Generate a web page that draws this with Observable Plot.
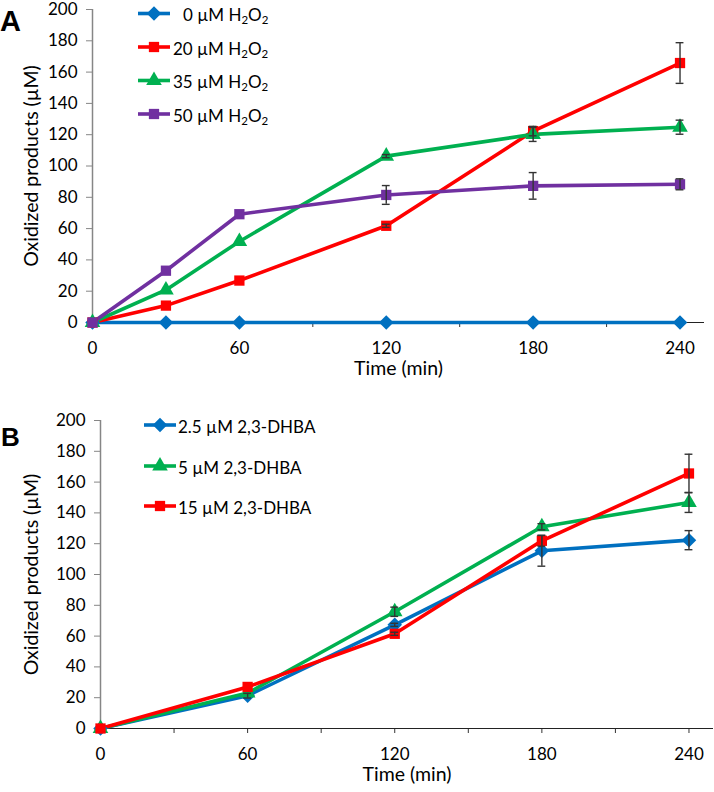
<!DOCTYPE html>
<html><head><meta charset="utf-8">
<script src="https://cdn.jsdelivr.net/npm/d3@7"></script>
<script src="https://cdn.jsdelivr.net/npm/@observablehq/plot@0.6"></script>
<style>
body{margin:0;background:#fff;}
#wrap{position:relative;width:714px;height:792px;font-family:Lato,"Open Sans",sans-serif;overflow:hidden;}
#wrap > svg{position:absolute;left:0;}
</style></head>
<body><div id="wrap"></div>
<script>
// ---------- Panel A data ----------
const timesA = [0, 30, 60, 120, 180, 240];
const seriesA = ["0 µM H2O2", "20 µM H2O2", "35 µM H2O2", "50 µM H2O2"];
const valuesA0 = [0, 0, 0, 0, 0, 0];
const errorsA0 = [0, 0, 0, 0, 0, 0];
const valuesA20 = [0, 10.8, 26.8, 61.8, 122.3, 165.8];
const errorsA20 = [0, 0, 0, 1, 3, 13];
const valuesA35 = [0, 20.8, 51.8, 106.3, 120.2, 124.8];
const errorsA35 = [0, 0, 0, 1, 4.5, 4.5];
const valuesA50 = [0, 33.1, 69.2, 81.5, 87.3, 88.3];
const errorsA50 = [0, 0, 0, 6, 8.5, 3.5];

// ---------- Panel B data ----------
const timesB = [0, 60, 120, 180, 240];
const seriesB = ["2.5 µM 2,3-DHBA", "5 µM 2,3-DHBA", "15 µM 2,3-DHBA"];
const valuesB25 = [0, 21.3, 67.3, 115.4, 122.3];
const errorsB25 = [0, 1.5, 1, 10, 6.2];
const valuesB5 = [0, 23, 75.8, 131, 146.8];
const errorsB5 = [0, 0, 3, 2, 6.5];
const valuesB15 = [0, 27, 61.5, 121.9, 165.6];
const errorsB15 = [0, 0, 1, 3.5, 12.5];

// ---------- axis ticks ----------
const yTicks = [0, 20, 40, 60, 80, 100, 120, 140, 160, 180, 200];
const xTicks = [0, 30, 60, 90, 120, 150, 180, 210, 240];
const xTickLabels = [0, 60, 120, 180, 240];
const yLabel = "Oxidized products (µM)";
const xLabel = "Time (min)";

const colorsA = ["#0070C0", "#FF0000", "#00B050", "#7030A0"];
const symbolsA = ["diamond", "square", "triangle", "square"];
const colorsB = ["#0070C0", "#00B050", "#FF0000"];
const symbolsB = ["diamond", "triangle", "square"];

// rotated-square diamond (Excel style)
const excelDiamond = {draw(ctx, size) { const h = Math.sqrt(size / 2); ctx.moveTo(0, -h); ctx.lineTo(h, 0); ctx.lineTo(0, h); ctx.lineTo(-h, 0); ctx.closePath(); }};
const symMap = {diamond: excelDiamond, square: d3.symbolSquare, triangle: d3.symbolTriangle};

function rows(times, series, vals, errs) {
  const out = [];
  series.forEach((s, i) => times.forEach((t, j) => out.push({s, t, v: vals[i][j], e: errs[i][j]})));
  return out;
}
const dataA = rows(timesA, seriesA, [valuesA0, valuesA20, valuesA35, valuesA50], [errorsA0, errorsA20, errorsA35, errorsA50]);
const dataB = rows(timesB, seriesB, [valuesB25, valuesB5, valuesB15], [errorsB25, errorsB5, errorsB15]);

const FONT = "Lato, 'Open Sans', sans-serif";
function panel(data, series, colors, symbols, o) {
  const errs = data.filter(d => d.e > 0);
  return Plot.plot({
    width: 714, height: o.height,
    marginLeft: o.ml, marginRight: o.mr, marginTop: o.mt, marginBottom: o.mb,
    x: {domain: [0, 250], axis: null},
    y: {domain: [0, 200], axis: null},
    color: {domain: series, range: colors},
    symbol: {domain: series, range: symbols.map(s => symMap[s])},
    style: {fontFamily: FONT, fontSize: "17px", color: "#000", background: "transparent", overflow: "visible"},
    marks: [
      Plot.axisY({ticks: yTicks, tickSize: 6, tickPadding: 9, stroke: "#868686", label: null, fontSize: 17}),
      Plot.ruleX([0], {stroke: "#868686", strokeWidth: 1.5}),
      Plot.axisX({ticks: xTicks, tickSize: 5, tickPadding: 14, stroke: "#333",
                  tickFormat: d => xTickLabels.includes(d) ? String(d) : "", label: null, fontSize: 17}),
      Plot.ruleY([0], {stroke: "#222", strokeWidth: 1.2}),
      Plot.line(data, {x: "t", y: "v", z: "s", stroke: "s", strokeWidth: 3.6}),
      Plot.dot(data, {x: "t", y: "v", fill: "s", symbol: "s", r: 5.8}),
      Plot.ruleX(errs, {x: "t", y1: d => d.v - d.e, y2: d => d.v + d.e, stroke: "#333", strokeWidth: 1.4}),
      Plot.ruleY(errs, {y: d => d.v + d.e, x1: d => d.t - 1.6, x2: d => d.t + 1.6, stroke: "#333", strokeWidth: 1.4}),
      Plot.ruleY(errs, {y: d => d.v - d.e, x1: d => d.t - 1.6, x2: d => d.t + 1.6, stroke: "#333", strokeWidth: 1.4}),
      Plot.text([yLabel], {frameAnchor: "left", dx: -o.ml + 31, rotate: -90, textAnchor: "middle", lineAnchor: "middle", fontSize: 19.5, fill: "#000"}),
      Plot.text([xLabel], {frameAnchor: "bottom", dy: 46, textAnchor: "middle", lineAnchor: "middle", fontSize: 19.5, fill: "#000"})
    ]
  });
}

const wrap = document.getElementById("wrap");
const A = panel(dataA, seriesA, colorsA, symbolsA, {height: 390, ml: 92, mr: 10, mt: 9, mb: 68});
A.style.top = "0px";
wrap.appendChild(A);
const B = panel(dataB, seriesB, colorsB, symbolsB, {height: 392, ml: 100, mr: 1, mt: 20, mb: 64});
B.style.top = "400px";
wrap.appendChild(B);

// ---------- overlay: panel letters and legends ----------
const ov = d3.select(wrap).append("svg").attr("width", 714).attr("height", 792)
  .style("top", "0px").style("pointer-events", "none")
  .attr("font-family", FONT);
ov.append("text").attr("x", 0).attr("y", 31).attr("font-size", 29).attr("font-weight", "bold")
  .attr("font-family", "'Liberation Sans', Arial, sans-serif").text("A");
ov.append("text").attr("x", 1).attr("y", 446).attr("font-size", 26).attr("font-weight", "bold")
  .attr("font-family", "'Liberation Sans', Arial, sans-serif").text("B");

function legendRow(x0, x1, yLine, tx, s, color, sym) {
  ov.append("line").attr("x1", x0).attr("x2", x1).attr("y1", yLine).attr("y2", yLine)
    .attr("stroke", color).attr("stroke-width", 3.6);
  ov.append("path").attr("transform", `translate(${(x0 + x1) / 2},${yLine})`)
    .attr("d", d3.symbol(symMap[sym], 5.8 * 5.8 * Math.PI)()).attr("fill", color);
  const t = ov.append("text").attr("x", tx).attr("y", yLine + 7.5).attr("font-size", 17);
  const m = s.match(/^(.*)H2O2$/);
  if (m) {
    t.append("tspan").text(m[1] + "H");
    t.append("tspan").attr("font-size", 11.5).attr("dy", 3).text("2");
    t.append("tspan").attr("dy", -3).text("O");
    t.append("tspan").attr("font-size", 11.5).attr("dy", 3).text("2");
  } else t.text(s);
}
const legYA = [13.5, 47, 80.5, 114];
seriesA.forEach((s, i) => legendRow(138, 170, legYA[i], i === 0 ? 183 : 173, s, colorsA[i], symbolsA[i]));
const legYB = [425, 466, 506];
seriesB.forEach((s, i) => legendRow(144, 176, legYB[i], 178, s, colorsB[i], symbolsB[i]));
</script>
</body></html>
